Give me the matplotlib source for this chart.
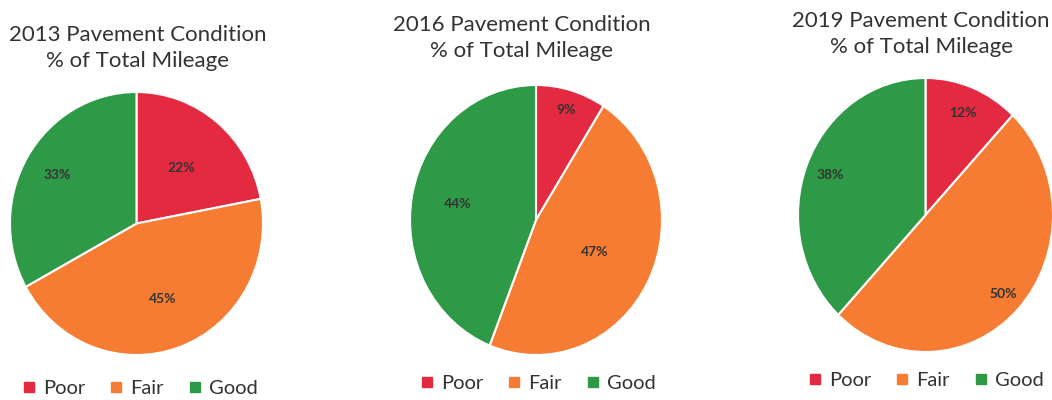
import matplotlib
matplotlib.use("Agg")
import matplotlib.pyplot as plt
import numpy as np
from matplotlib.lines import Line2D

plt.rcParams["font.family"] = ["Lato", "DejaVu Sans"]

categories = ["Poor", "Fair", "Good"]
years = ["2013", "2016", "2019"]
share_2013 = [22, 45, 33]
share_2016 = [9, 47, 44]
share_2019 = [12, 50, 38]
shares = [share_2013, share_2016, share_2019]

colors = ["#E32A40", "#F77C33", "#2E9A48"]
W, H = 1052, 400

# pixel boxes (left, top, right, bottom) of each pie, label radii, title centre / legend y
pie_boxes = [(10, 92, 263, 355), (410, 85, 662, 355), (798, 78, 1053, 352)]
label_r = [[0.55, 0.61, 0.73], [0.85, 0.52, 0.63], [0.80, 0.84, 0.80]]
title_pos = [(138, 48), (522, 38), (921, 34)]
legend_y = [388, 383, 380]
legend_x = [140, 538, 926]

fig = plt.figure(figsize=(W / 100, H / 100), dpi=100)

for i, (year, vals) in enumerate(zip(years, shares)):
    l, t, r, b = pie_boxes[i]
    ax = fig.add_axes([l / W, 1 - b / H, (r - l) / W, (b - t) / H])
    wedges, _ = ax.pie(vals, colors=colors, startangle=90, counterclock=False,
                       wedgeprops=dict(edgecolor="white", linewidth=1.5))
    ax.set_aspect("auto")
    ax.set_xlim(-1, 1)
    ax.set_ylim(-1, 1)
    for w, v, d in zip(wedges, vals, label_r[i]):
        mid = np.deg2rad((w.theta1 + w.theta2) / 2)
        ax.text(d * np.cos(mid), d * np.sin(mid), f"{v}%", ha="center", va="center",
                fontsize=10, fontweight="bold", color="#333333")

    tx, ty = title_pos[i]
    fig.text(tx / W, 1 - ty / H, f"{year} Pavement Condition\n% of Total Mileage",
             ha="center", va="center", fontsize=16, color="#333333", linespacing=1.4)

    handles = [Line2D([], [], marker="s", linestyle="", markersize=7, color=c) for c in colors]
    fig.legend(handles, categories, loc="center", ncol=3, frameon=False,
               bbox_to_anchor=(legend_x[i] / W, 1 - legend_y[i] / H),
               fontsize=14.5, handlelength=0.7, handletextpad=0.35, columnspacing=1.2,
               labelcolor="#333333", borderpad=0)

fig.savefig("out.png", dpi=100)
